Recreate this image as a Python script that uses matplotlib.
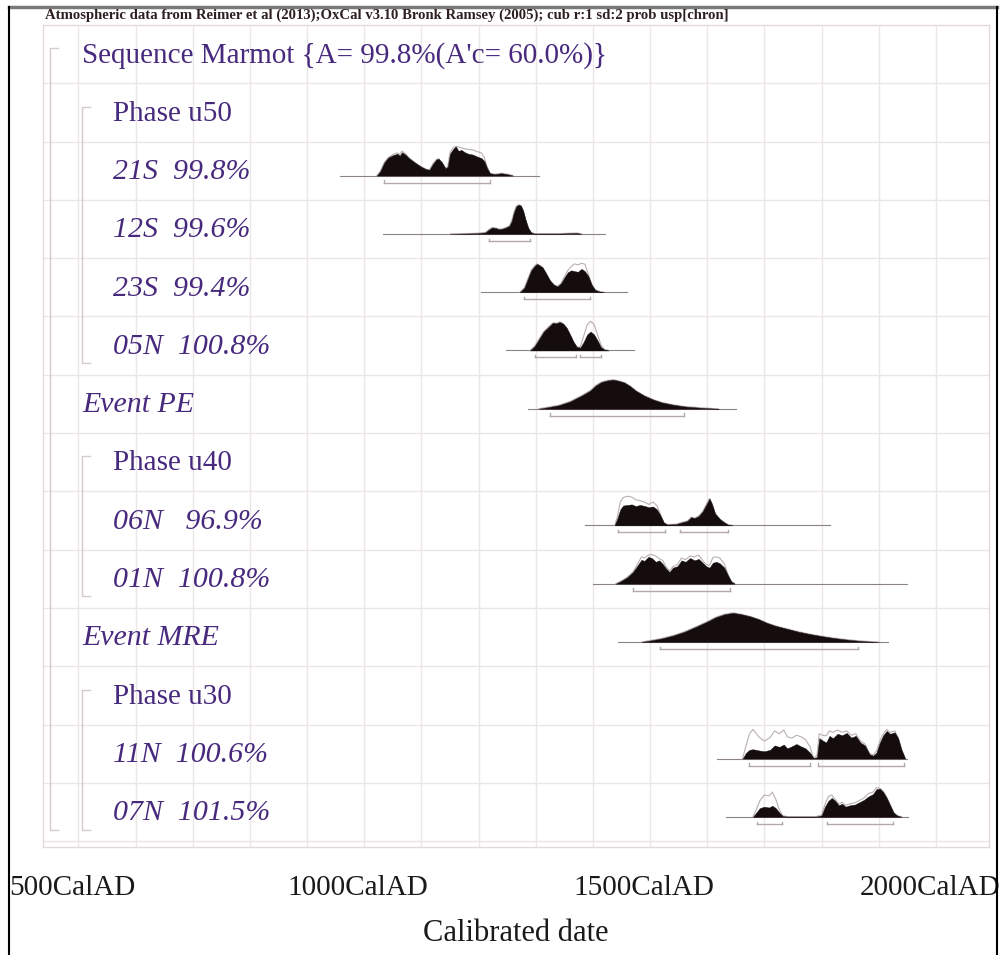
import matplotlib
matplotlib.use('Agg')
import matplotlib.pyplot as plt
import matplotlib.transforms as mtransforms
from matplotlib.lines import Line2D

plt.rcParams['font.family'] = ['Liberation Serif', 'DejaVu Serif']

# 行标签
row_labels = ["Sequence Marmot {A= 99.8%(A'c= 60.0%)}", 'Phase u50',
              '21S  99.8%', '12S  99.6%', '23S  99.4%', '05N  100.8%',
              'Event PE', 'Phase u40', '06N   96.9%', '01N  100.8%',
              'Event MRE', 'Phase u30', '11N  100.6%', '07N  101.5%']
row_italic = [False, False, True, True, True, True, True,
              False, True, True, True, False, True, True]
row_indent = [0, 1, 1, 1, 1, 1, 0, 1, 1, 1, 0, 1, 1, 1]

tick_years = [500, 1000, 1500, 2000]
tick_labels = ['500CalAD', '1000CalAD', '1500CalAD', '2000CalAD']

# 概率分布 (年份, 模型后验, 未建模先验)
yr_21S = [1022, 1028, 1035, 1042, 1050, 1058, 1062, 1066, 1072, 1078, 1085, 1092, 1100,
          1108, 1114, 1120, 1126, 1130, 1136, 1142, 1146, 1150, 1155, 1160, 1165, 1170,
          1176, 1182, 1190, 1198, 1205, 1210, 1215, 1220, 1228, 1240, 1250, 1260]
p_21S = [0, 0.15, 0.45, 0.62, 0.70, 0.75, 0.68, 0.80, 0.72, 0.60, 0.50, 0.40, 0.30,
         0.22, 0.20, 0.40, 0.55, 0.58, 0.45, 0.25, 0.30, 0.75, 0.90, 1.0, 0.85, 0.88,
         0.80, 0.75, 0.72, 0.65, 0.60, 0.50, 0.25, 0.08, 0.05, 0.08, 0.05, 0]
pr_21S = [0, 0.15, 0.45, 0.62, 0.72, 0.78, 0.72, 0.84, 0.75, 0.62, 0.50, 0.40, 0.30,
          0.22, 0.20, 0.40, 0.55, 0.58, 0.45, 0.25, 0.30, 0.78, 0.95, 1.0, 0.98, 0.95,
          0.92, 0.90, 0.88, 0.82, 0.78, 0.62, 0.30, 0.08, 0.05, 0.08, 0.05, 0]

yr_12S = [1150, 1195, 1212, 1218, 1224, 1230, 1236, 1242, 1248, 1254, 1258, 1262, 1266,
          1270, 1274, 1278, 1282, 1287, 1292, 1298, 1340, 1372, 1380]
p_12S = [0, 0.02, 0.05, 0.15, 0.22, 0.20, 0.16, 0.18, 0.22, 0.28, 0.45, 0.75, 0.95,
         1.0, 0.97, 0.80, 0.50, 0.20, 0.05, 0.01, 0.01, 0.03, 0]
pr_12S = p_12S

yr_23S = [1272, 1280, 1286, 1292, 1298, 1302, 1306, 1312, 1318, 1325, 1332, 1338, 1344,
          1350, 1356, 1362, 1368, 1374, 1380, 1386, 1392, 1398, 1404, 1412, 1420]
p_23S = [0, 0.15, 0.45, 0.75, 0.90, 0.97, 0.93, 0.85, 0.65, 0.40, 0.25, 0.20, 0.30,
         0.50, 0.68, 0.75, 0.72, 0.70, 0.80, 0.72, 0.55, 0.25, 0.08, 0.02, 0]
pr_23S = [0, 0.15, 0.45, 0.75, 0.90, 0.97, 0.93, 0.85, 0.65, 0.40, 0.25, 0.20, 0.30,
          0.52, 0.74, 0.88, 0.97, 0.94, 0.99, 0.96, 0.62, 0.28, 0.08, 0.02, 0]

yr_05N = [1290, 1298, 1306, 1314, 1322, 1330, 1336, 1342, 1348, 1354, 1360, 1366, 1372,
          1378, 1384, 1390, 1396, 1402, 1408, 1414, 1420, 1428]
p_05N = [0, 0.15, 0.40, 0.65, 0.80, 0.95, 0.93, 0.98, 0.92, 0.78, 0.55, 0.30, 0.12,
         0.10, 0.30, 0.55, 0.65, 0.55, 0.35, 0.12, 0.03, 0]
pr_05N = [0, 0.15, 0.40, 0.65, 0.80, 0.95, 0.93, 0.98, 0.92, 0.78, 0.55, 0.30, 0.12,
          0.12, 0.50, 0.88, 1.0, 0.90, 0.55, 0.20, 0.04, 0]

yr_PE = [1305, 1320, 1340, 1360, 1380, 1395, 1405, 1415, 1425, 1435, 1445, 1455, 1465,
         1475, 1490, 1505, 1520, 1540, 1560, 1585, 1610, 1620]
p_PE = [0, 0.05, 0.12, 0.25, 0.45, 0.62, 0.80, 0.92, 0.97, 1.0, 0.96, 0.90, 0.78,
        0.62, 0.45, 0.32, 0.22, 0.14, 0.08, 0.04, 0.01, 0]
pr_PE = p_PE

yr_06N = [1438, 1443, 1448, 1453, 1460, 1468, 1475, 1482, 1490, 1498, 1505, 1512, 1518,
          1524, 1530, 1545, 1555, 1565, 1572, 1578, 1585, 1592, 1598, 1604, 1608, 1614,
          1622, 1630, 1637, 1645]
p_06N = [0, 0.25, 0.55, 0.68, 0.70, 0.72, 0.66, 0.70, 0.67, 0.62, 0.65, 0.55, 0.35,
         0.10, 0.03, 0.04, 0.10, 0.15, 0.28, 0.25, 0.32, 0.48, 0.70, 0.92, 0.75, 0.40,
         0.22, 0.10, 0.02, 0]
pr_06N = [0, 0.30, 0.80, 0.95, 1.0, 0.97, 0.88, 0.85, 0.80, 0.72, 0.80, 0.68, 0.40,
          0.10, 0.03, 0.04, 0.10, 0.15, 0.28, 0.25, 0.32, 0.48, 0.70, 0.92, 0.75, 0.40,
          0.22, 0.10, 0.02, 0]

yr_01N = [1440, 1450, 1460, 1470, 1478, 1485, 1490, 1497, 1503, 1510, 1516, 1522, 1528,
          1534, 1540, 1548, 1555, 1562, 1570, 1578, 1585, 1592, 1598, 1604, 1610, 1616,
          1622, 1630, 1636, 1642, 1648]
p_01N = [0, 0.10, 0.22, 0.40, 0.62, 0.82, 0.78, 0.92, 0.88, 0.75, 0.80, 0.68, 0.52,
         0.40, 0.55, 0.60, 0.80, 0.75, 0.88, 0.80, 0.85, 0.72, 0.60, 0.55, 0.72, 0.75,
         0.70, 0.55, 0.30, 0.08, 0]
pr_01N = [0, 0.10, 0.22, 0.40, 0.66, 0.92, 0.88, 0.98, 1.0, 0.95, 0.86, 0.80, 0.58,
          0.44, 0.58, 0.66, 0.88, 0.82, 0.95, 0.92, 0.98, 0.80, 0.66, 0.62, 0.90, 0.92,
          0.88, 0.68, 0.34, 0.08, 0]

yr_MRE = [1485, 1500, 1520, 1540, 1560, 1580, 1600, 1615, 1630, 1645, 1660, 1675, 1690,
          1705, 1720, 1740, 1760, 1780, 1800, 1820, 1840, 1860, 1880, 1900]
p_MRE = [0, 0.05, 0.12, 0.22, 0.35, 0.52, 0.70, 0.85, 0.95, 1.0, 0.95, 0.88, 0.78,
         0.65, 0.55, 0.45, 0.35, 0.27, 0.20, 0.14, 0.09, 0.05, 0.02, 0]
pr_MRE = p_MRE

yr_11N = [1662, 1668, 1674, 1680, 1690, 1700, 1710, 1718, 1726, 1734, 1740, 1748, 1756,
          1764, 1772, 1780, 1786, 1792, 1796, 1802, 1808, 1814, 1820, 1828, 1836, 1844,
          1852, 1860, 1868, 1876, 1884, 1890, 1896, 1902, 1908, 1914, 1920, 1928, 1934,
          1940, 1946]
p_11N = [0, 0.20, 0.30, 0.32, 0.28, 0.25, 0.30, 0.45, 0.40, 0.48, 0.35, 0.42, 0.50,
         0.42, 0.35, 0.20, 0.02, 0.05, 0.70, 0.62, 0.55, 0.78, 0.70, 0.85, 0.80, 0.88,
         0.72, 0.78, 0.55, 0.45, 0.15, 0.10, 0.20, 0.55, 0.80, 0.95, 0.85, 0.90, 0.70,
         0.30, 0.02]
pr_11N = [0, 0.45, 0.85, 1.0, 0.75, 0.60, 0.72, 0.95, 0.85, 0.98, 0.75, 0.70, 0.80,
          0.75, 0.65, 0.40, 0.02, 0.10, 0.85, 0.80, 0.78, 0.95, 0.90, 0.98, 0.90, 0.95,
          0.80, 0.85, 0.60, 0.50, 0.18, 0.12, 0.25, 0.60, 0.85, 1.0, 0.90, 0.95, 0.72,
          0.30, 0.02]

yr_07N = [1680, 1686, 1692, 1700, 1708, 1714, 1720, 1726, 1732, 1740, 1790, 1800, 1806,
          1812, 1818, 1824, 1830, 1836, 1842, 1850, 1858, 1866, 1874, 1882, 1890, 1896,
          1902, 1908, 1914, 1920, 1926, 1932, 1940]
p_07N = [0, 0.15, 0.30, 0.35, 0.32, 0.38, 0.30, 0.15, 0.03, 0.01, 0.01, 0.05, 0.35,
         0.55, 0.65, 0.55, 0.40, 0.45, 0.35, 0.40, 0.42, 0.50, 0.58, 0.70, 0.78, 0.95,
         0.97, 0.85, 0.65, 0.40, 0.15, 0.05, 0]
pr_07N = [0, 0.25, 0.55, 0.75, 0.72, 0.85, 0.60, 0.25, 0.04, 0.01, 0.01, 0.06, 0.42,
          0.70, 0.75, 0.60, 0.44, 0.50, 0.40, 0.45, 0.48, 0.56, 0.64, 0.80, 0.85, 1.0,
          0.98, 0.88, 0.68, 0.42, 0.16, 0.05, 0]

# 细基线范围与95.4%区间
span_list = [(957, 1306), (1033, 1421), (1204, 1459), (1248, 1472), (1287, 1651),
             (1386, 1815), (1400, 1949), (1444, 1917), (1617, 1949), (1633, 1952)]
range_list = [[(1034, 1220)], [(1218, 1290)], [(1280, 1395)],
              [(1299, 1370), (1378, 1415)], [(1325, 1559)],
              [(1444, 1526), (1553, 1637)], [(1470, 1640)], [(1517, 1864)],
              [(1674, 1780), (1794, 1944)], [(1687, 1730), (1809, 1925)]]
dist_rows = [2, 3, 4, 5, 6, 8, 9, 10, 12, 13]
dist_data = [(yr_21S, p_21S, pr_21S), (yr_12S, p_12S, pr_12S), (yr_23S, p_23S, pr_23S),
             (yr_05N, p_05N, pr_05N), (yr_PE, p_PE, pr_PE), (yr_06N, p_06N, pr_06N),
             (yr_01N, p_01N, pr_01N), (yr_MRE, p_MRE, pr_MRE), (yr_11N, p_11N, pr_11N),
             (yr_07N, p_07N, pr_07N)]

# 括号 (起始行, 结束行, 层级)
brackets = [(0, 13, 0), (1, 5, 1), (7, 9, 1), (11, 13, 1)]

TEXT_COLOR = '#47297d'
GRID_COLOR = '#ece6e6'
X0, X1 = 438, 2093


def px_to_year(px):
    return X0 + (px - 43) / 946 * (X1 - X0)


def draw_frame(fig):
    fig.add_artist(Line2D([9, 997], [948, 948], transform=None, color='#7a7a7a', lw=2.5))
    fig.add_artist(Line2D([9, 9], [0, 948], transform=None, color='black', lw=1.5))
    fig.add_artist(Line2D([997, 997], [0, 948], transform=None, color='black', lw=1.5))
    fig.text(45 / 1000, 1 - 15 / 955, 'Atmospheric data from Reimer et al (2013);OxCal v3.10 '
             'Bronk Ramsey (2005); cub r:1 sd:2 prob usp[chron]',
             fontsize=10.6, color='#2e2020', fontweight='bold', va='center', ha='left')


def draw_chart():
    fig = plt.figure(figsize=(10, 9.55), dpi=100)
    ax = fig.add_axes([0.043, 1 - 847 / 955, 0.946, 822 / 955])
    ax.set_xlim(X0, X1)
    ax.set_ylim(14.1, 0)

    # 网格
    for yr in range(500, 2100, 100):
        ax.axvline(yr, color=GRID_COLOR, lw=1, zorder=0)
    for r in range(1, 15):
        ax.axhline(r, color=GRID_COLOR, lw=1, zorder=0)
    for s in ax.spines.values():
        s.set_color('#e2dada')
        s.set_linewidth(1)

    # 行标签
    for i, lab in enumerate(row_labels):
        x = 82 if row_indent[i] == 0 else 113
        if i == 0:
            size = 21
        elif row_italic[i]:
            size = 21.5
        else:
            size = 21
        ax.text(px_to_year(x), i + 0.52, lab, fontsize=size,
                color=TEXT_COLOR, style='italic' if row_italic[i] else 'normal',
                va='center', ha='left')

    # 括号
    for start, end, lev in brackets:
        bx = px_to_year(50 + lev * 32)
        tick = 14
        ax.plot([bx + tick, bx, bx, bx + tick], [start + 0.4, start + 0.4, end + 0.8, end + 0.8],
                color='#d2caca', lw=1, zorder=1)

    # 分布
    for k, row in enumerate(dist_rows):
        yrs, post, prior = dist_data[k]
        base = row + 0.583
        ax.plot(span_list[k], [base, base], color='#8d8282', lw=0.8, zorder=2)
        ax.plot(yrs, [base - v * 0.5 for v in prior], color='#b9afaf', lw=0.8, zorder=2)
        ax.fill_between(yrs, base, [base - v * 0.5 for v in post], color='#150d0d',
                        lw=0.3, zorder=3)
        for a, b in range_list[k]:
            ax.plot([a, b], [base + 0.12, base + 0.12], color='#b3a9a9', lw=1, zorder=2)
            ax.plot([a, a], [base + 0.08, base + 0.12], color='#b3a9a9', lw=1, zorder=2)
            ax.plot([b, b], [base + 0.08, base + 0.12], color='#b3a9a9', lw=1, zorder=2)

    ax.set_yticks([])
    ax.set_xticks(tick_years)
    ax.set_xticklabels(tick_labels, fontsize=21, color='#1a1a1a')
    ax.tick_params(axis='x', length=0, pad=20)
    offset = mtransforms.ScaledTranslation(-6 / 100, 0, fig.dpi_scale_trans)
    for t in ax.get_xticklabels():
        t.set_transform(t.get_transform() + offset)
    ax.set_xlabel('Calibrated date', fontsize=22, color='#1a1a1a', labelpad=13)

    draw_frame(fig)
    fig.savefig('out.png', dpi=100)


if __name__ == '__main__':
    draw_chart()
